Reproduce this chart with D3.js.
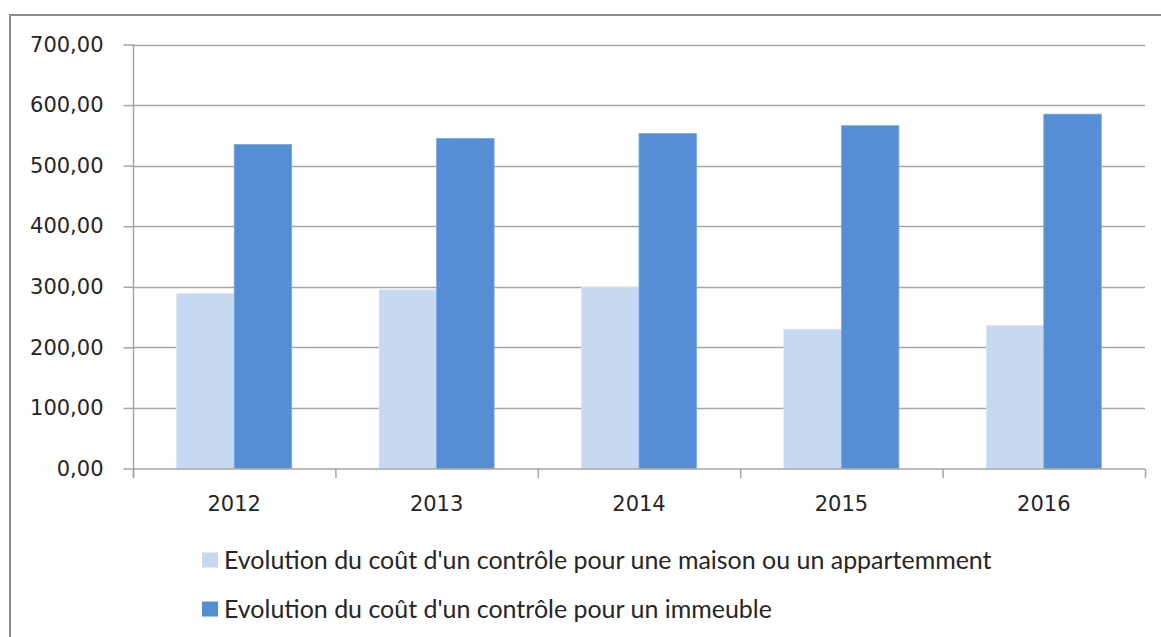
<!DOCTYPE html>
<html><head><meta charset="utf-8">
<script src="https://cdn.jsdelivr.net/npm/d3@7"></script>
<style>html,body{margin:0;padding:0;background:#fff;overflow:hidden}</style>
</head><body><svg id="c" width="1161" height="637"></svg>
<script>
const categories = ["2012","2013","2014","2015","2016"];
const seriesNames = ["Evolution du coût d'un contrôle pour une maison ou un appartemment","Evolution du coût d'un contrôle pour un immeuble"];
const maisonValues = [289, 295, 299, 230, 236];
const immeubleValues = [535, 545, 553, 566, 585];
const yTicks = [0,100,200,300,400,500,600,700];
const colors = ["#c6d9f1","#558ed5"];

const svg = d3.select("#c");
svg.append("rect").attr("x",10).attr("y",15).attr("width",1300).attr("height",800)
  .attr("fill","#fff").attr("stroke","#8c8c8c").attr("stroke-width",2);

const L=133, R=1145, T=44.5, B=468.5;
const x = d3.scaleBand().domain(categories).range([L,R]).paddingInner(0).paddingOuter(0);
const xs = d3.scaleBand().domain([0,1]).range([0,x.bandwidth()]).paddingInner(0).paddingOuter(0.76);
const y = d3.scaleLinear().domain([0,700]).range([B,T]);
const fmt = v => d3.format(".2f")(v).replace(".",",");

// gridlines
svg.append("g").selectAll("line").data(yTicks.filter(d=>d>0)).join("line")
  .attr("x1",L).attr("x2",R).attr("y1",d=>Math.round(y(d))+0.5).attr("y2",d=>Math.round(y(d))+0.5)
  .attr("stroke","#a6a6a6").attr("stroke-width",1.5);

// bars
const data = categories.map((c,i)=>({c, v:[maisonValues[i], immeubleValues[i]]}));
const g = svg.append("g");
data.forEach(d=>{
  d.v.forEach((v,k)=>{
    g.append("rect").attr("x",x(d.c)+xs(k)).attr("width",xs.bandwidth())
      .attr("y",y(v)).attr("height",y(0)-y(v)).attr("fill",colors[k])
      .attr("stroke", k===0?"#d8e5f5":"#7aa8e0").attr("stroke-width",0.8);
  });
});

// y axis
const yAxis = d3.axisLeft(y).tickValues(yTicks).tickSize(10).tickPadding(20).tickFormat(fmt);
const ya = svg.append("g").attr("transform",`translate(${L+0.5},0)`).call(yAxis);
ya.select(".domain").attr("stroke","#a6a6a6").attr("stroke-width",1.5).attr("d",`M0,${T}V${B+9}`);
ya.selectAll(".tick line").attr("stroke","#a6a6a6").attr("stroke-width",1.5);
ya.selectAll("text").attr("font-family","DejaVu Sans").attr("font-size",21).attr("fill","#262626");

// x axis
const xAxis = d3.axisBottom(x).tickSize(0).tickPadding(27);
const xa = svg.append("g").attr("transform",`translate(0,${B+0.5})`).call(xAxis);
xa.select(".domain").attr("stroke","#a6a6a6").attr("stroke-width",1.5).attr("d",`M${L},0H${R}`);
xa.selectAll("text").attr("font-family","DejaVu Sans").attr("font-size",21).attr("fill","#262626");
const bounds = categories.map(c=>x(c)).concat([R]);
xa.selectAll(".bt").data(bounds).join("line").attr("class","bt")
  .attr("x1",d=>d+0.5).attr("x2",d=>d+0.5).attr("y1",0).attr("y2",9)
  .attr("stroke","#a6a6a6").attr("stroke-width",1.5);

// legend
const leg = svg.append("g");
const rows = [560, 609];
seriesNames.forEach((n,i)=>{
  leg.append("rect").attr("x",202).attr("y",rows[i]-7.5).attr("width",16).attr("height",15).attr("fill",colors[i]);
  leg.append("text").attr("x",224).attr("y",rows[i]).attr("dy","0.35em")
    .attr("font-family","Lato").attr("font-size",22).attr("fill","#262626").text(n);
});
const t0 = leg.select("text").node();
const w = t0.getComputedTextLength();
const fs = 22*768/w;
leg.selectAll("text").attr("font-size",fs);
</script></body></html>
